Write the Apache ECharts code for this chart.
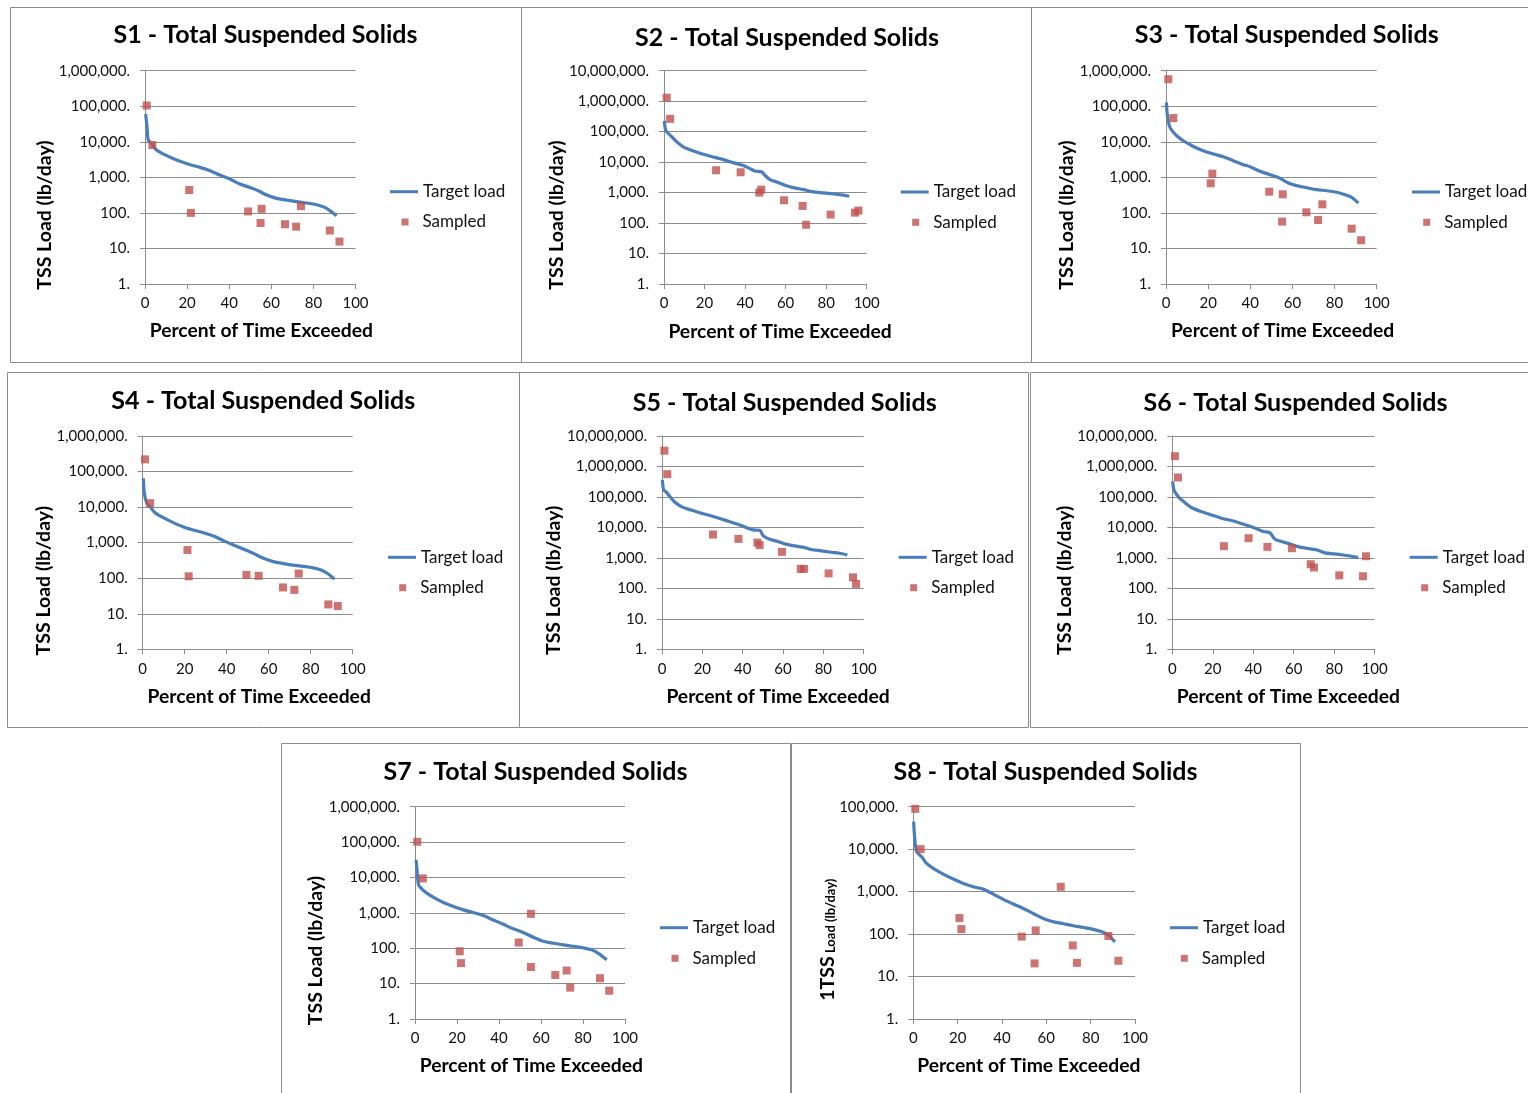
<!DOCTYPE html>
<html><head><meta charset="utf-8">
<script src="https://cdn.jsdelivr.net/npm/echarts@6/dist/echarts.min.js"></script>
<style>html,body{margin:0;padding:0;background:#fff}#c{width:1528px;height:1093px}</style>
</head><body><div id="c"></div>
<script>
// ---------- DATA ----------
const xTicks = [0, 20, 40, 60, 80, 100];
const panelNames = ['S1', 'S2', 'S3', 'S4', 'S5', 'S6', 'S7', 'S8'];
const yMaxByPanel = [1e6, 1e7, 1e6, 1e6, 1e7, 1e7, 1e6, 1e5];

const s1TargetX = [0.3,1.0,1.6,3.5,5.0,10.3,16.6,21.4,26.1,30.9,35.6,40.3,45.1,49.8,53.8,57.8,62.5,67.2,72,76.7,81.5,85.4,87.8,91];
const s1TargetY = [60000,25000,11000,8500,6200,4070,2820,2270,1910,1540,1160,900,650,520,420,318,256,230,207,190,170,143,116,83];
const s1SampledX = [0.8,3.5,21,21.8,49,55.4,54.9,66.5,71.8,74.1,87.8,92.4];
const s1SampledY = [105000,8100,440,100,110,130,52,48,41,155,32,15.6];

const s2TargetX = [0.2,0.8,2.1,3.8,6.3,9.5,14.5,19.4,24.3,29.3,34.2,39.1,42.4,44.9,48.2,49.8,52.3,55.6,59.7,63.8,68.8,73.7,78.6,83.6,87.7,91.4];
const s2TargetY = [224000,112000,87000,68000,46000,31600,23300,18100,14800,12100,9600,7700,6100,5100,4760,3700,2670,2240,1740,1460,1250,1050,975,900,840,760];
const s2SampledX = [1.3,3.0,25.7,37.8,47.0,48.0,59.2,68.4,70.1,82.2,94.2,95.9];
const s2SampledY = [1300000,263000,5400,4650,1000,1250,560,365,88,190,220,256];

const s3TargetX = [0.2,0.6,1.6,2.7,5.1,8.2,13,17.7,22.5,27.2,31.9,36.7,39.9,44.6,49.4,54.1,58.1,62,66.8,71.5,76.3,81,85,88.1,91.3];
const s3TargetY = [129000,60000,28000,21300,14800,10700,7400,5600,4530,3810,2940,2270,2000,1475,1190,940,690,585,510,450,420,380,325,275,190];
const s3SampledX = [1.1,3.5,21.2,22,49,55.4,55.1,66.6,72.2,74.2,88.1,92.6];
const s3SampledY = [575000,46500,680,1270,395,333,57,104,63,174,36,17];

const s4TargetX = [0.3,0.8,1.9,3.5,5.9,9.8,14.6,19.4,24.1,28.9,33.7,38.4,43.2,47.9,52.7,57.5,62.2,67,71.7,76.5,81.3,85.2,88.4,91.3];
const s4TargetY = [65000,24500,12900,10200,6950,5040,3650,2760,2270,1910,1540,1140,860,660,500,363,293,258,232,215,196,168,131,94];
const s4SampledX = [1.1,3.5,21.3,21.9,49.4,55.2,66.8,72.2,74.3,88.4,92.9];
const s4SampledY = [220000,12900,620,113,124,117,55,47,135,18.3,16.5];

const s5TargetX = [0.2,0.8,2.1,3.8,6.3,9.6,14.5,19.5,24.5,29.4,34.4,39.3,42.6,45.1,48.4,50.1,53.4,57.5,60.8,65.8,70.7,74.0,79.0,84.0,88.1,91.9];
const s5TargetY = [363000,170000,145000,105000,68000,48000,37000,29300,23800,18900,14700,11500,9400,8300,8100,5400,4100,3440,2880,2470,2180,1880,1700,1530,1420,1250];
const s5SampledX = [1.2,2.6,25.3,37.9,47.3,48.4,59.5,68.8,70.4,82.6,94.7,96.2];
const s5SampledY = [3300000,560000,5850,4200,3180,2620,1575,435,435,310,230,140];

const s6TargetX = [0.2,0.8,2.0,3.6,6.1,9.4,14.3,19.3,24.2,29.2,34.1,39.0,42.3,44.8,48.1,50.6,53.9,58.0,62.1,67.1,72.0,75.3,80.2,85.2,88.5,91.8];
const s6TargetY = [325000,170000,125000,91000,66000,45000,33000,25700,20000,16800,13400,10600,8700,7300,6800,4200,3440,2880,2350,2030,1790,1460,1350,1220,1130,1020];
const s6SampledX = [1.3,2.8,25.5,37.7,47,59.1,68.4,70.0,82.5,94.2,95.7];
const s6SampledY = [2170000,435000,2420,4430,2300,2080,620,485,267,250,1130];

const s7TargetX = [0.5,1.1,1.7,3.2,5.6,9.5,13.5,18.3,23,27.8,32.5,37.3,42.1,46.8,51.6,56.3,61.1,65.9,70.6,75.4,80.2,84.1,87.3,89.7,91.3];
const s7TargetY = [31500,13200,6150,4760,3610,2590,1960,1510,1215,1020,840,630,475,355,278,205,158,138,124,114,102,90,72,56,47];
const s7SampledX = [1.1,3.7,21.3,21.9,49.4,55.2,55.2,66.8,72.2,73.9,88.1,92.5];
const s7SampledY = [102000,9400,82,38,145,940,29.5,17.5,23.4,7.7,14.2,6.3];

const s8TargetX = [0.15,0.6,1.5,3.8,6.0,9.0,13.5,18.0,22.6,27.1,31.6,36.1,40.6,45.1,49.6,54.1,58.6,63.2,67.7,72.2,76.7,81.2,85,88,90.2,91];
const s8TargetY = [44700,19500,8700,6600,4600,3520,2580,1980,1560,1300,1140,870,655,510,400,306,234,195,175,157,143,129,113,95,72,66];
const s8SampledX = [0.9,3.3,20.8,21.7,48.9,54.7,55.2,66.5,71.9,73.8,88,92.5];
const s8SampledY = [89000,10000,238,131,87,20.4,122,1300,54,21,90,23.6];

const targetX = [s1TargetX, s2TargetX, s3TargetX, s4TargetX, s5TargetX, s6TargetX, s7TargetX, s8TargetX];
const targetY = [s1TargetY, s2TargetY, s3TargetY, s4TargetY, s5TargetY, s6TargetY, s7TargetY, s8TargetY];
const sampledX = [s1SampledX, s2SampledX, s3SampledX, s4SampledX, s5SampledX, s6SampledX, s7SampledX, s8SampledX];
const sampledY = [s1SampledY, s2SampledY, s3SampledY, s4SampledY, s5SampledY, s6SampledY, s7SampledY, s8SampledY];

// ---------- LAYOUT ----------
const layout = [
  {grid:[145,70.7,210.5,213.3], title:[265.5,35], xName:[261.3,331], yName:[45,215], leg:[390,191.7], leg2:[405,222], box:[10,7,511,355]},
  {grid:[664,70.7,202.7,213.3], title:[787,37.5], xName:[780,332], yName:[556.7,215], leg:[900.7,192], leg2:[915.7,222.3], box:[521,7,510,355]},
  {grid:[1166,70.7,210.7,213.3], title:[1286.7,34.5], xName:[1282.5,331], yName:[1066.7,215], leg:[1412,192], leg2:[1426.7,222.3], box:[1031,7,520,355]},
  {grid:[142.7,436,210,213.3], title:[263.3,400.8], xName:[259.2,696.7], yName:[43.3,580.7], leg:[388,557.3], leg2:[402.7,587.7], box:[7,372,512,355]},
  {grid:[662,436,201.7,213.3], title:[784.7,403.3], xName:[778,696.7], yName:[553.3,580.3], leg:[898.7,557.3], leg2:[913.7,587.7], box:[519,372,509,355]},
  {grid:[1172.3,436,202.4,213.3], title:[1295.5,403.3], xName:[1288.3,696.7], yName:[1064.3,580.3], leg:[1409.7,557.3], leg2:[1424.7,587.7], box:[1030,372,520,355]},
  {grid:[415,806.7,210,212.3], title:[535.5,771.7], xName:[531.3,1066], yName:[315.3,950.5], leg:[660,927.7], leg2:[675,958.3], box:[281,743,509,360]},
  {grid:[913.3,806.7,221.7,212.3], title:[1045.5,771.7], xName:[1028.8,1066], yName:[827.5,939.7], leg:[1170,927.7], leg2:[1184.3,958.3], box:[791,743,509,360]}
];

const BLUE = '#4A7EBB', RED = '#C0504D', GRID = '#8C8C8C', TXT = '#111111';
const FONT = 'Lato, "Open Sans", sans-serif';

const grids = [], xAxes = [], yAxes = [], series = [], legends = [], graphics = [];

layout.forEach((L, i) => {
  graphics.push({type:'rect', silent:true, shape:{x:L.box[0]+0.5, y:L.box[1]+0.5, width:L.box[2], height:L.box[3]},
    style:{fill:'none', stroke:GRID, lineWidth:1}, z:0});
  grids.push({left:L.grid[0], top:L.grid[1], width:L.grid[2], height:L.grid[3], containLabel:false});
  xAxes.push({type:'value', gridIndex:i, min:xTicks[0], max:xTicks[xTicks.length-1], interval:xTicks[1]-xTicks[0],
    axisLine:{show:true, lineStyle:{color:GRID, width:1}},
    axisTick:{show:true, length:5, lineStyle:{color:GRID}},
    splitLine:{show:false},
    axisLabel:{color:TXT, fontSize:15, fontFamily:FONT, margin:12}});
  yAxes.push({type:'log', logBase:10, gridIndex:i, min:1, max:yMaxByPanel[i], interval:1,
    axisLine:{show:true, lineStyle:{color:GRID, width:1}},
    axisTick:{show:true, length:5, lineStyle:{color:GRID}},
    splitLine:{show:true, lineStyle:{color:GRID, width:1}},
    minorTick:{show:false}, minorSplitLine:{show:false},
    axisLabel:{color:TXT, fontSize:15, fontFamily:FONT, margin:15,
      formatter: v => Math.round(v).toLocaleString('en-US') + '.'}});
  series.push({type:'line', name:'Target load', xAxisIndex:i, yAxisIndex:i,
    data: targetX[i].map((x, k) => [x, targetY[i][k]]),
    symbol:'none', showSymbol:false, smooth:0.3,
    lineStyle:{color:BLUE, width:3.2}, itemStyle:{color:BLUE}, z:2, animation:false});
  series.push({type:'scatter', name:'Sampled', xAxisIndex:i, yAxisIndex:i,
    data: sampledX[i].map((x, k) => [x, sampledY[i][k]]),
    symbol:'rect', symbolSize:8, itemStyle:{color:RED}, z:3, animation:false});
  legends.push({left:L.leg[0], top:L.leg[1]-9, padding:0, orient:'vertical', selectedMode:false,
    itemWidth:28, itemHeight:3, data:[{name:'Target load', icon:'rect'}],
    textStyle:{fontFamily:FONT, fontSize:17, color:TXT, lineHeight:18}});
  legends.push({left:L.leg2[0]-3.5, top:L.leg2[1]-9, padding:0, orient:'vertical', selectedMode:false,
    itemWidth:7, itemHeight:7, data:[{name:'Sampled', icon:'rect'}],
    textStyle:{fontFamily:FONT, fontSize:17, color:TXT, lineHeight:18, padding:[0,0,0,9]}});
  graphics.push({type:'text', x:L.title[0], y:L.title[1], silent:true,
    style:{text: panelNames[i] + ' - Total Suspended Solids', font:'bold 25px ' + FONT, fill:'#000',
      align:'center', verticalAlign:'middle', textAlign:'center', textVerticalAlign:'middle'}});
  graphics.push({type:'text', x:L.xName[0], y:L.xName[1], silent:true,
    style:{text:'Percent of Time Exceeded', font:'bold 19.3px ' + FONT, fill:'#000',
      align:'center', verticalAlign:'middle', textAlign:'center', textVerticalAlign:'middle'}});
  if (i === 7) {
    graphics.push({type:'text', x:L.yName[0], y:L.yName[1], rotation:Math.PI/2, silent:true,
      style:{text:'{a|1TSS} {b|Load (lb/day)}', fill:'#000',
        align:'center', verticalAlign:'middle', textAlign:'center', textVerticalAlign:'middle',
        rich:{a:{font:'bold 19.5px ' + FONT, verticalAlign:'bottom', lineHeight:20},
              b:{font:'bold 13px ' + FONT, verticalAlign:'bottom', lineHeight:18}}}});
  } else {
    graphics.push({type:'text', x:L.yName[0], y:L.yName[1], rotation:Math.PI/2, silent:true,
      style:{text:'TSS Load (lb/day)', font:'bold 19.5px ' + FONT, fill:'#000',
        align:'center', verticalAlign:'middle', textAlign:'center', textVerticalAlign:'middle'}});
  }
});

const chart = echarts.init(document.getElementById('c'), null, {renderer:'canvas'});
chart.setOption({
  backgroundColor:'#ffffff',
  animation:false,
  grid:grids, xAxis:xAxes, yAxis:yAxes, series:series, legend:legends, graphic:graphics
});
</script>
</body></html>
